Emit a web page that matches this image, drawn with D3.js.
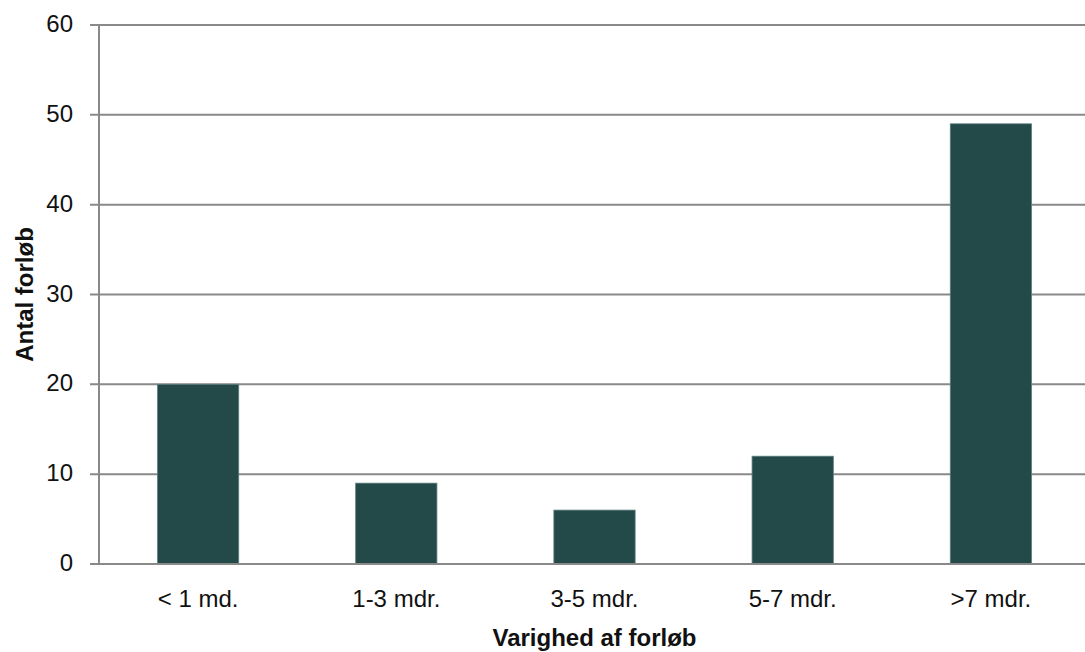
<!DOCTYPE html>
<html>
<head>
<meta charset="utf-8">
<script src="https://cdn.jsdelivr.net/npm/d3@7"></script>
<style>
  html, body { margin: 0; padding: 0; background: #fff; }
  svg text { font-family: "Liberation Sans", Arial, sans-serif; fill: #111; }
</style>
</head>
<body>
<svg id="chart" width="1085" height="652"></svg>
<script>
// Antal forløb fordelt på varighed
const categories = ["< 1 md.", "1-3 mdr.", "3-5 mdr.", "5-7 mdr.", ">7 mdr."];
const counts = [20, 9, 6, 12, 49];
const yTicks = [0, 10, 20, 30, 40, 50, 60];
const xTitle = "Varighed af forløb";
const yTitle = "Antal forløb";

const svg = d3.select("#chart");
const plot = { left: 99, right: 1090, top: 25, bottom: 564 };

const x = d3.scaleBand()
  .domain(categories)
  .range([plot.left, plot.right])
  .paddingInner(0.59)
  .paddingOuter(0.295);

const y = d3.scaleLinear()
  .domain([0, 60])
  .range([plot.bottom, plot.top]);

const gridColor = "#898989";

// horizontal gridlines with short tick stubs left of the axis
svg.append("g")
  .selectAll("line")
  .data(yTicks)
  .join("line")
  .attr("x1", plot.left - 9)
  .attr("x2", plot.right)
  .attr("y1", d => y(d))
  .attr("y2", d => y(d))
  .attr("stroke", gridColor)
  .attr("stroke-width", 2);

// bars
svg.append("g")
  .selectAll("rect")
  .data(categories)
  .join("rect")
  .attr("x", d => x(d))
  .attr("width", x.bandwidth())
  .attr("y", (d, i) => y(counts[i]))
  .attr("height", (d, i) => y(0) - y(counts[i]))
  .attr("fill", "#234949")
  .attr("stroke", "#5f7f7f")
  .attr("stroke-width", 0.8);

// baseline redrawn over the bars
svg.append("line")
  .attr("x1", plot.left - 9).attr("x2", plot.right)
  .attr("y1", y(0)).attr("y2", y(0))
  .attr("stroke", gridColor).attr("stroke-width", 2);

// vertical axis line
svg.append("line")
  .attr("x1", plot.left).attr("x2", plot.left)
  .attr("y1", plot.top).attr("y2", plot.bottom)
  .attr("stroke", gridColor).attr("stroke-width", 2);

// y tick labels
svg.append("g")
  .selectAll("text")
  .data(yTicks)
  .join("text")
  .attr("x", 73)
  .attr("y", d => y(d) + 7)
  .attr("text-anchor", "end")
  .attr("font-size", 24)
  .text(d => d);

// category labels
svg.append("g")
  .selectAll("text")
  .data(categories)
  .join("text")
  .attr("x", d => x(d) + x.bandwidth() / 2)
  .attr("y", 607)
  .attr("text-anchor", "middle")
  .attr("font-size", 24)
  .text(d => d);

// axis titles
svg.append("text")
  .attr("x", (plot.left + plot.right) / 2)
  .attr("y", 646)
  .attr("text-anchor", "middle")
  .attr("font-size", 24)
  .attr("font-weight", "bold")
  .text(xTitle);

svg.append("text")
  .attr("transform", `translate(33, ${(plot.top + plot.bottom) / 2}) rotate(-90)`)
  .attr("text-anchor", "middle")
  .attr("font-size", 24)
  .attr("font-weight", "bold")
  .text(yTitle);
</script>
</body>
</html>
